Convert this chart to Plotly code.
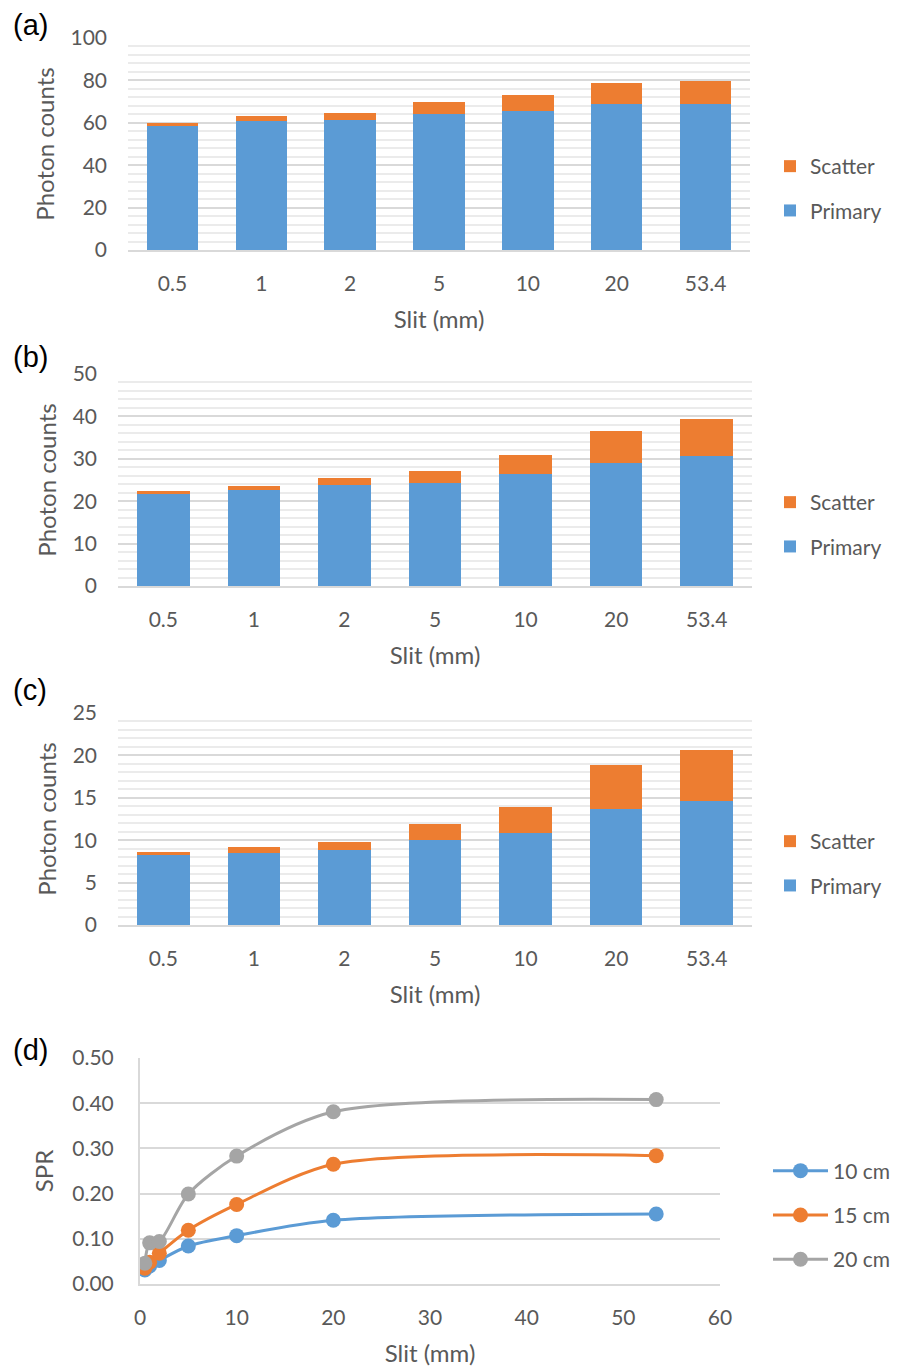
import plotly.graph_objects as go

# ---------------- data ----------------
slit_labels = ["0.5", "1", "2", "5", "10", "20", "53.4"]
slit_mm = [0.5, 1, 2, 5, 10, 20, 53.4]

primary_a = [58.7, 60.8, 61.5, 64.2, 65.8, 68.9, 68.9]
scatter_a = [1.4, 2.2, 3.2, 5.5, 7.2, 9.7, 10.8]

primary_b = [21.6, 22.7, 23.9, 24.3, 26.5, 28.9, 30.7]
scatter_b = [0.7, 1.0, 1.6, 2.9, 4.5, 7.6, 8.6]

primary_c = [8.24, 8.5, 8.9, 9.97, 10.8, 13.7, 14.6]
scatter_c = [0.32, 0.7, 0.9, 1.93, 3.1, 5.2, 6.0]

spr_10cm = [0.031, 0.040, 0.052, 0.084, 0.107, 0.141, 0.155]
spr_15cm = [0.035, 0.048, 0.068, 0.119, 0.176, 0.265, 0.284]
spr_20cm = [0.046, 0.091, 0.094, 0.199, 0.283, 0.381, 0.408]

panel_labels = ["(a)", "(b)", "(c)", "(d)"]
y_ranges = [[0, 100], [0, 50], [0, 25]]
y_dticks = [20, 10, 5]

# ---------------- style ----------------
W, H = 897, 1367
BLUE = "#5B9BD5"
ORANGE = "#ED7D31"
GRAY = "#A5A5A5"
TXT = "#595959"
GRID = "#D9D9D9"
MINOR = "#EBEBEB"
FONT = "Lato"
TICK = dict(family=FONT, size=21, color=TXT)
TITLE = dict(family=FONT, size=24, color=TXT)
LEG = dict(family=FONT, size=21, color=TXT)


def xd(a, b):
    return [a / W, b / W]


def yd(top, bottom):
    return [1 - bottom / H, 1 - top / H]


def py(p):
    return 1 - p / H


fig = go.Figure()

bar_sets = [(primary_a, scatter_a), (primary_b, scatter_b), (primary_c, scatter_c)]
bar_boxes = [(128, 750, 38, 250), (118, 752, 374, 586), (118, 752, 713, 925)]
legend_y = [188.5, 524.5, 863.5]
legend_names = ["legend", "legend2", "legend3"]

for i, ((prim, scat), (x0, x1, t, b)) in enumerate(zip(bar_sets, bar_boxes)):
    n = "" if i == 0 else str(i + 1)
    fig.add_trace(go.Bar(x=slit_labels, y=prim, name="Primary", marker_color=BLUE,
                         marker_line_width=0, xaxis="x" + n, yaxis="y" + n,
                         legend=legend_names[i], legendgroup="p", legendrank=2))
    fig.add_trace(go.Bar(x=slit_labels, y=scat, name="Scatter", marker_color=ORANGE,
                         marker_line_width=0, xaxis="x" + n, yaxis="y" + n,
                         legend=legend_names[i], legendgroup="s", legendrank=1))
    fig.update_layout(**{
        "xaxis" + n: dict(domain=xd(x0, x1), anchor="y" + n, type="category",
                          automargin=False,
                          showline=True, linecolor=GRID, linewidth=2, showgrid=False,
                          ticks="", ticklabelstandoff=14, tickfont=TICK,
                          title=dict(text="Slit (mm)", standoff=17, font=TITLE)),
        "yaxis" + n: dict(domain=yd(t, b), anchor="x" + n, range=y_ranges[i],
                          automargin=False,
                          dtick=y_dticks[i], showgrid=True, gridcolor=GRID, gridwidth=2,
                          zeroline=False, showline=False, ticks="",
                          ticklabelstandoff=20,
                          minor=dict(dtick=y_dticks[i] / 5, showgrid=True,
                                     gridcolor=MINOR, gridwidth=1.5),
                          tickfont=TICK,
                          title=dict(text="Photon counts", standoff=9, font=TITLE)),
        legend_names[i]: dict(x=770 / W, y=py(legend_y[i]), xanchor="left", yanchor="middle",
                              traceorder="grouped", tracegroupgap=14,
                              font=LEG, bgcolor="rgba(0,0,0,0)"),
    })

# ---------------- panel d ----------------
for k, (name, vals, col) in enumerate([("10 cm", spr_10cm, BLUE), ("15 cm", spr_15cm, ORANGE),
                                       ("20 cm", spr_20cm, GRAY)]):
    fig.add_trace(go.Scatter(x=slit_mm, y=vals, name=name, mode="lines+markers",
                             line=dict(color=col, width=3, shape="spline", smoothing=0.8),
                             marker=dict(color=col, size=15),
                             xaxis="x4", yaxis="y4", legend="legend4",
                             legendgroup="g%d" % k))

fig.update_layout(
    xaxis4=dict(domain=xd(140, 720), anchor="y4", range=[0, 60], dtick=10,
                automargin=False,
                showgrid=False, zeroline=False, showline=True, linecolor=GRID, linewidth=2,
                ticks="", ticklabelstandoff=14, tickfont=TICK,
                title=dict(text="Slit (mm)", standoff=18, font=TITLE)),
    yaxis4=dict(domain=yd(1058, 1284), anchor="x4", range=[0, 0.5], dtick=0.1,
                automargin=False,
                tickformat=".2f", showgrid=True, gridcolor=GRID, gridwidth=2,
                zeroline=False, showline=True, linecolor=GRID, linewidth=2,
                ticks="", ticklabelstandoff=20, tickfont=TICK,
                title=dict(text="SPR", standoff=12, font=TITLE)),
    legend4=dict(x=768 / W, y=py(1215), xanchor="left", yanchor="middle",
                 itemwidth=55, traceorder="grouped", tracegroupgap=14,
                 font=LEG, bgcolor="rgba(0,0,0,0)"),
)

# panel labels
label_pos = [25, 357, 690, 1050]
for lab, yy in zip(panel_labels, label_pos):
    fig.add_annotation(text=lab, x=11 / W, y=py(yy), xref="paper", yref="paper",
                       xanchor="left", yanchor="middle", showarrow=False,
                       font=dict(family="Liberation Sans", size=29, color="#000000"))

fig.update_layout(
    template="none",
    width=W, height=H, margin=dict(l=0, r=0, t=0, b=0, autoexpand=False),
    barmode="stack", bargap=0.42,
    paper_bgcolor="white", plot_bgcolor="white",
    font=dict(family=FONT, color=TXT),
)

fig.write_html("out.html", config={"displayModeBar": False},
               post_script="document.body.style.margin='0';document.body.style.overflow='hidden';")
